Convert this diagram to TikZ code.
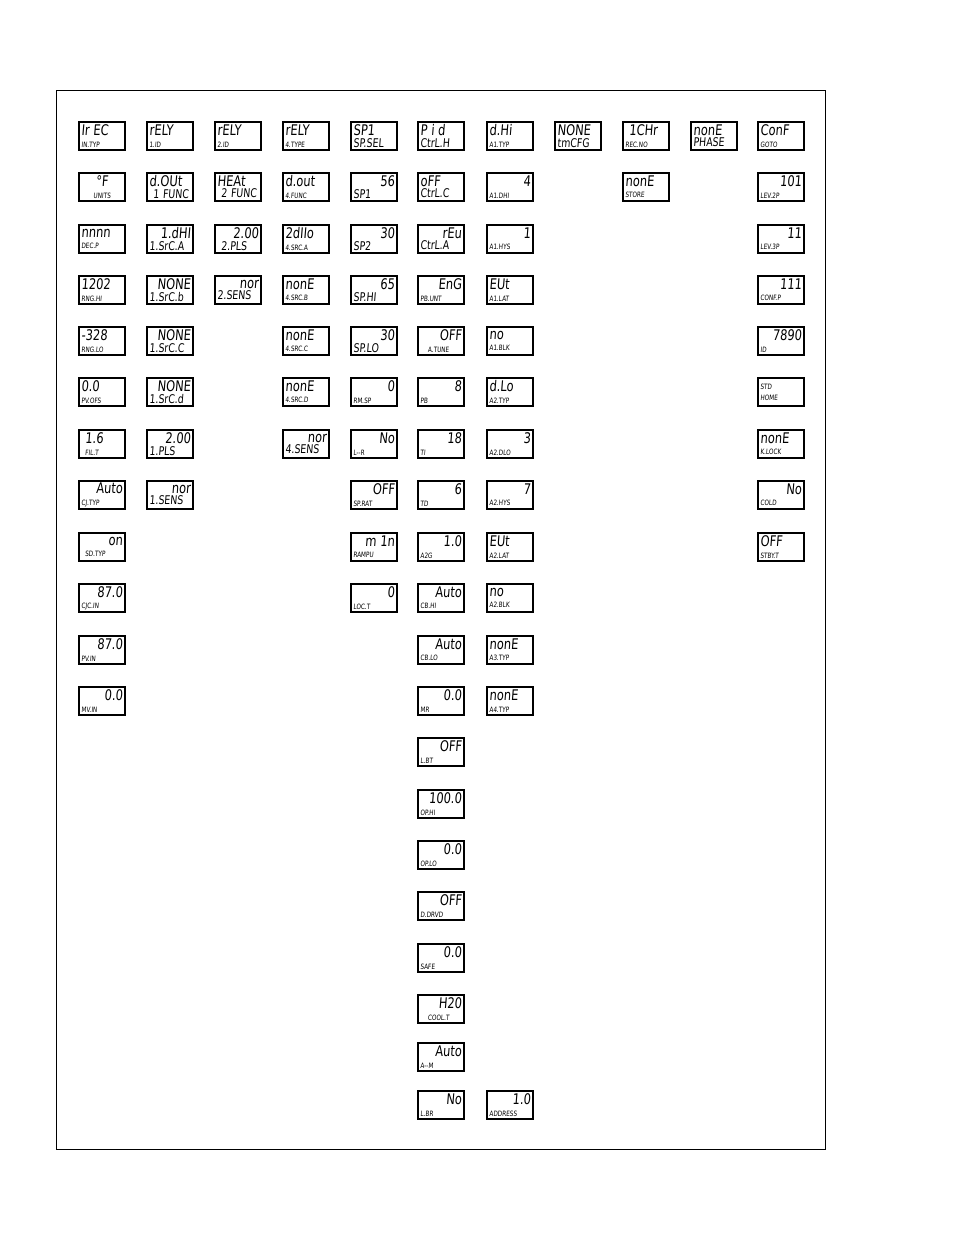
\documentclass[tikz,border=0pt]{standalone}
\usepackage{fontspec}
\newfontfamily\segfont[FakeStretch=0.78,FakeSlant=0.08]{DejaVu Sans}
\newcommand{\dtop}[1]{{\fontsize{11}{8.5}\selectfont #1}}
\newcommand{\dbig}[1]{\mbox{\fontsize{9}{8.5}\selectfont #1}}
\newcommand{\dlab}[1]{{\fontsize{5.5}{8.5}\selectfont #1}}
\newcommand{\rt}{\hspace*{\fill}}
\newcommand{\dmid}[1]{\makebox[31pt][c]{#1}}

\begin{document}
\begin{tikzpicture}[
	x=0.75pt, y=-0.75pt,
	disp/.style={draw, line width=1.4pt, rectangle, minimum width=34.5pt, minimum height=21pt,
		text width=31pt, inner sep=1.2pt, align=left, font=\segfont\fontsize{8.5}{8.5}\selectfont},
	frame/.style={draw, line width=0.6pt}
	]
	\useasboundingbox (0,0) rectangle (954,1235);
	\draw[frame] (56,90) rectangle (825,1149);
	
	% Column 1: input
	\node[disp] (intyp) at (102,136) {\dtop{Ir EC}\\\dlab{IN.TYP}};
	\node[disp] (units) at (102,187) {\dmid{\dtop{°F}}\\\dmid{\dlab{UNITS}}};
	\node[disp] (decp) at (102,239) {\dtop{nnnn}\\\dlab{DEC.P}};
	\node[disp] (rnghi) at (102,290) {\dtop{1202}\\\dlab{RNG.HI}};
	\node[disp] (rnglo) at (102,341) {\dtop{-328}\\\dlab{RNG.LO}};
	\node[disp] (pvofs) at (102,392) {\dtop{0.0}\\\dlab{PV.OFS}};
	\node[disp] (filt) at (102,444) {\dtop{\ 1.6}\\\dlab{\ FIL.T}};
	\node[disp] (cjtyp) at (102,495) {\rt\dtop{Auto}\\\dlab{CJ.TYP}};
	\node[disp] (sdtyp) at (102,547) {\rt\dtop{on}\\\dlab{\ SD.TYP}};
	\node[disp] (cjcin) at (102,598) {\rt\dtop{87.0}\\\dlab{CJC.IN}};
	\node[disp] (pvin) at (102,650) {\rt\dtop{87.0}\\\dlab{PV.IN}};
	\node[disp] (mvin) at (102,701) {\rt\dtop{0.0}\\\dlab{MV.IN}};
	
	% Column 2: output 1
	\node[disp] (id1) at (170,136) {\dtop{rELY}\\\dlab{1.ID}};
	\node[disp] (func1) at (170,187) {\dtop{d.OUt}\\\dbig{\ 1 FUNC}};
	\node[disp] (srca1) at (170,239) {\rt\dtop{1.dHI}\\\dbig{1.SrC.A}};
	\node[disp] (srcb1) at (170,290) {\rt\dtop{NONE}\\\dbig{1.SrC.b}};
	\node[disp] (srcc1) at (170,341) {\rt\dtop{NONE}\\\dbig{1.SrC.C}};
	\node[disp] (srcd1) at (170,392) {\rt\dtop{NONE}\\\dbig{1.SrC.d}};
	\node[disp] (pls1) at (170,444) {\rt\dtop{2.00}\\\dbig{1.PLS}};
	\node[disp] (sens1) at (170,495) {\rt\dtop{nor}\\\dbig{1.SENS}};
	
	% Column 3: output 2
	\node[disp] (id2) at (238,136) {\dtop{rELY}\\\dlab{2.ID}};
	\node[disp] (func2) at (238,187) {\dtop{HEAt}\\\dbig{\ 2 FUNC}};
	\node[disp] (pls2) at (238,239) {\rt\dtop{2.00}\\\dbig{\ 2.PLS}};
	\node[disp] (sens2) at (238,290) {\rt\dtop{nor}\\\dbig{2.SENS}};
	
	% Column 4: output 4
	\node[disp] (type4) at (306,136) {\dtop{rELY}\\\dlab{4.TYPE}};
	\node[disp] (func4) at (306,187) {\dtop{d.out}\\\dlab{4.FUNC}};
	\node[disp] (srca4) at (306,239) {\dtop{2dIIo}\\\dlab{4.SRC.A}};
	\node[disp] (srcb4) at (306,290) {\dtop{nonE}\\\dlab{4.SRC.B}};
	\node[disp] (srcc4) at (306,341) {\dtop{nonE}\\\dlab{4.SRC.C}};
	\node[disp] (srcd4) at (306,392) {\dtop{nonE}\\\dlab{4.SRC.D}};
	\node[disp] (sens4) at (306,444) {\rt\dtop{nor}\\\dbig{4.SENS}};
	
	% Column 5: setpoints
	\node[disp] (spsel) at (374,136) {\dtop{SP1}\\\dbig{SP.SEL}};
	\node[disp] (sp1) at (374,187) {\rt\dtop{56}\\\dbig{SP1}};
	\node[disp] (sp2) at (374,239) {\rt\dtop{30}\\\dbig{SP2}};
	\node[disp] (sphi) at (374,290) {\rt\dtop{65}\\\dbig{SP.HI}};
	\node[disp] (splo) at (374,341) {\rt\dtop{30}\\\dbig{SP.LO}};
	\node[disp] (rmsp) at (374,392) {\rt\dtop{0}\\\dlab{RM.SP}};
	\node[disp] (lr) at (374,444) {\rt\dtop{No}\\\dlab{L--R}};
	\node[disp] (sprat) at (374,495) {\rt\dtop{OFF}\\\dlab{SP.RAT}};
	\node[disp] (rampu) at (374,547) {\rt\dtop{m 1n}\\\dlab{RAMPU}};
	\node[disp] (loct) at (374,598) {\rt\dtop{0}\\\dlab{LOC.T}};
	
	% Column 6: control
	\node[disp] (ctrlh) at (441,136) {\dtop{P i d}\\\dbig{CtrL.H}};
	\node[disp] (ctrlc) at (441,187) {\dtop{oFF}\\\dbig{CtrL.C}};
	\node[disp] (ctrla) at (441,239) {\rt\dtop{rEu}\\\dbig{CtrL.A}};
	\node[disp] (pbunt) at (441,290) {\rt\dtop{EnG}\\\dlab{PB.UNT}};
	\node[disp] (atune) at (441,341) {\rt\dtop{OFF}\\\dlab{\ \ A.TUNE}};
	\node[disp] (pb) at (441,392) {\rt\dtop{8}\\\dlab{PB}};
	\node[disp] (ti) at (441,444) {\rt\dtop{18}\\\dlab{TI}};
	\node[disp] (td) at (441,495) {\rt\dtop{6}\\\dlab{TD}};
	\node[disp] (a2g) at (441,547) {\rt\dtop{1.0}\\\dlab{A2G}};
	\node[disp] (cbhi) at (441,598) {\rt\dtop{Auto}\\\dlab{CB.HI}};
	\node[disp] (cblo) at (441,650) {\rt\dtop{Auto}\\\dlab{CB.LO}};
	\node[disp] (mr) at (441,701) {\rt\dtop{0.0}\\\dlab{MR}};
	\node[disp] (lbt) at (441,752) {\rt\dtop{OFF}\\\dlab{L.BT}};
	\node[disp] (ophi) at (441,804) {\rt\dtop{100.0}\\\dlab{OP.HI}};
	\node[disp] (oplo) at (441,855) {\rt\dtop{0.0}\\\dlab{OP.LO}};
	\node[disp] (ddrvd) at (441,906) {\rt\dtop{OFF}\\\dlab{D.DRVD}};
	\node[disp] (safe) at (441,958) {\rt\dtop{0.0}\\\dlab{SAFE}};
	\node[disp] (coolt) at (441,1009) {\rt\dtop{H20}\\\dlab{\ \ COOL.T}};
	\node[disp] (am) at (441,1057) {\rt\dtop{Auto}\\\dlab{A--M}};
	\node[disp] (lbr) at (441,1105) {\rt\dtop{No}\\\dlab{L.BR}};
	
	% Column 7: alarms
	\node[disp] (a1typ) at (510,136) {\dtop{d.Hi}\\\dlab{A1.TYP}};
	\node[disp] (a1dhi) at (510,187) {\rt\dtop{4}\\\dlab{A1.DHI}};
	\node[disp] (a1hys) at (510,239) {\rt\dtop{1}\\\dlab{A1.HYS}};
	\node[disp] (a1lat) at (510,290) {\dtop{EUt}\\\dlab{A1.LAT}};
	\node[disp] (a1blk) at (510,341) {\dtop{no}\\\dlab{A1.BLK}};
	\node[disp] (a2typ) at (510,392) {\dtop{d.Lo}\\\dlab{A2.TYP}};
	\node[disp] (a2dlo) at (510,444) {\rt\dtop{3}\\\dlab{A2.DLO}};
	\node[disp] (a2hys) at (510,495) {\rt\dtop{7}\\\dlab{A2.HYS}};
	\node[disp] (a2lat) at (510,547) {\dtop{EUt}\\\dlab{A2.LAT}};
	\node[disp] (a2blk) at (510,598) {\dtop{no}\\\dlab{A2.BLK}};
	\node[disp] (a3typ) at (510,650) {\dtop{nonE}\\\dlab{A3.TYP}};
	\node[disp] (a4typ) at (510,701) {\dtop{nonE}\\\dlab{A4.TYP}};
	\node[disp] (address) at (510,1105) {\rt\dtop{1.0}\\\dlab{ADDRESS}};
	
	% Columns 8 to 10
	\node[disp] (tmcfg) at (578,136) {\dtop{NONE}\\\dbig{tmCFG}};
	\node[disp] (recno) at (646,136) {\dtop{\ 1CHr}\\\dlab{REC.NO}};
	\node[disp] (store) at (646,187) {\dtop{nonE}\\\dlab{STORE}};
	\node[disp] (phase) at (714,136) {\dtop{nonE}\\\dbig{PHASE}};
	
	% Column 11: configuration
	\node[disp] (goto) at (781,136) {\dtop{ConF}\\\dlab{GOTO}};
	\node[disp] (lev2p) at (781,187) {\rt\dtop{101}\\\dlab{LEV.2P}};
	\node[disp] (lev3p) at (781,239) {\rt\dtop{11}\\\dlab{LEV.3P}};
	\node[disp] (confp) at (781,290) {\rt\dtop{111}\\\dlab{CONF.P}};
	\node[disp] (id) at (781,341) {\rt\dtop{7890}\\\dlab{ID}};
	\node[disp] (home) at (781,392) {\dlab{STD}\\\dlab{HOME}};
	\node[disp] (klock) at (781,444) {\dtop{nonE}\\\dlab{K.LOCK}};
	\node[disp] (cold) at (781,495) {\rt\dtop{No}\\\dlab{COLD}};
	\node[disp] (stbyt) at (781,547) {\dtop{OFF}\\\dlab{STBY.T}};
	
\end{tikzpicture}
\end{document}
